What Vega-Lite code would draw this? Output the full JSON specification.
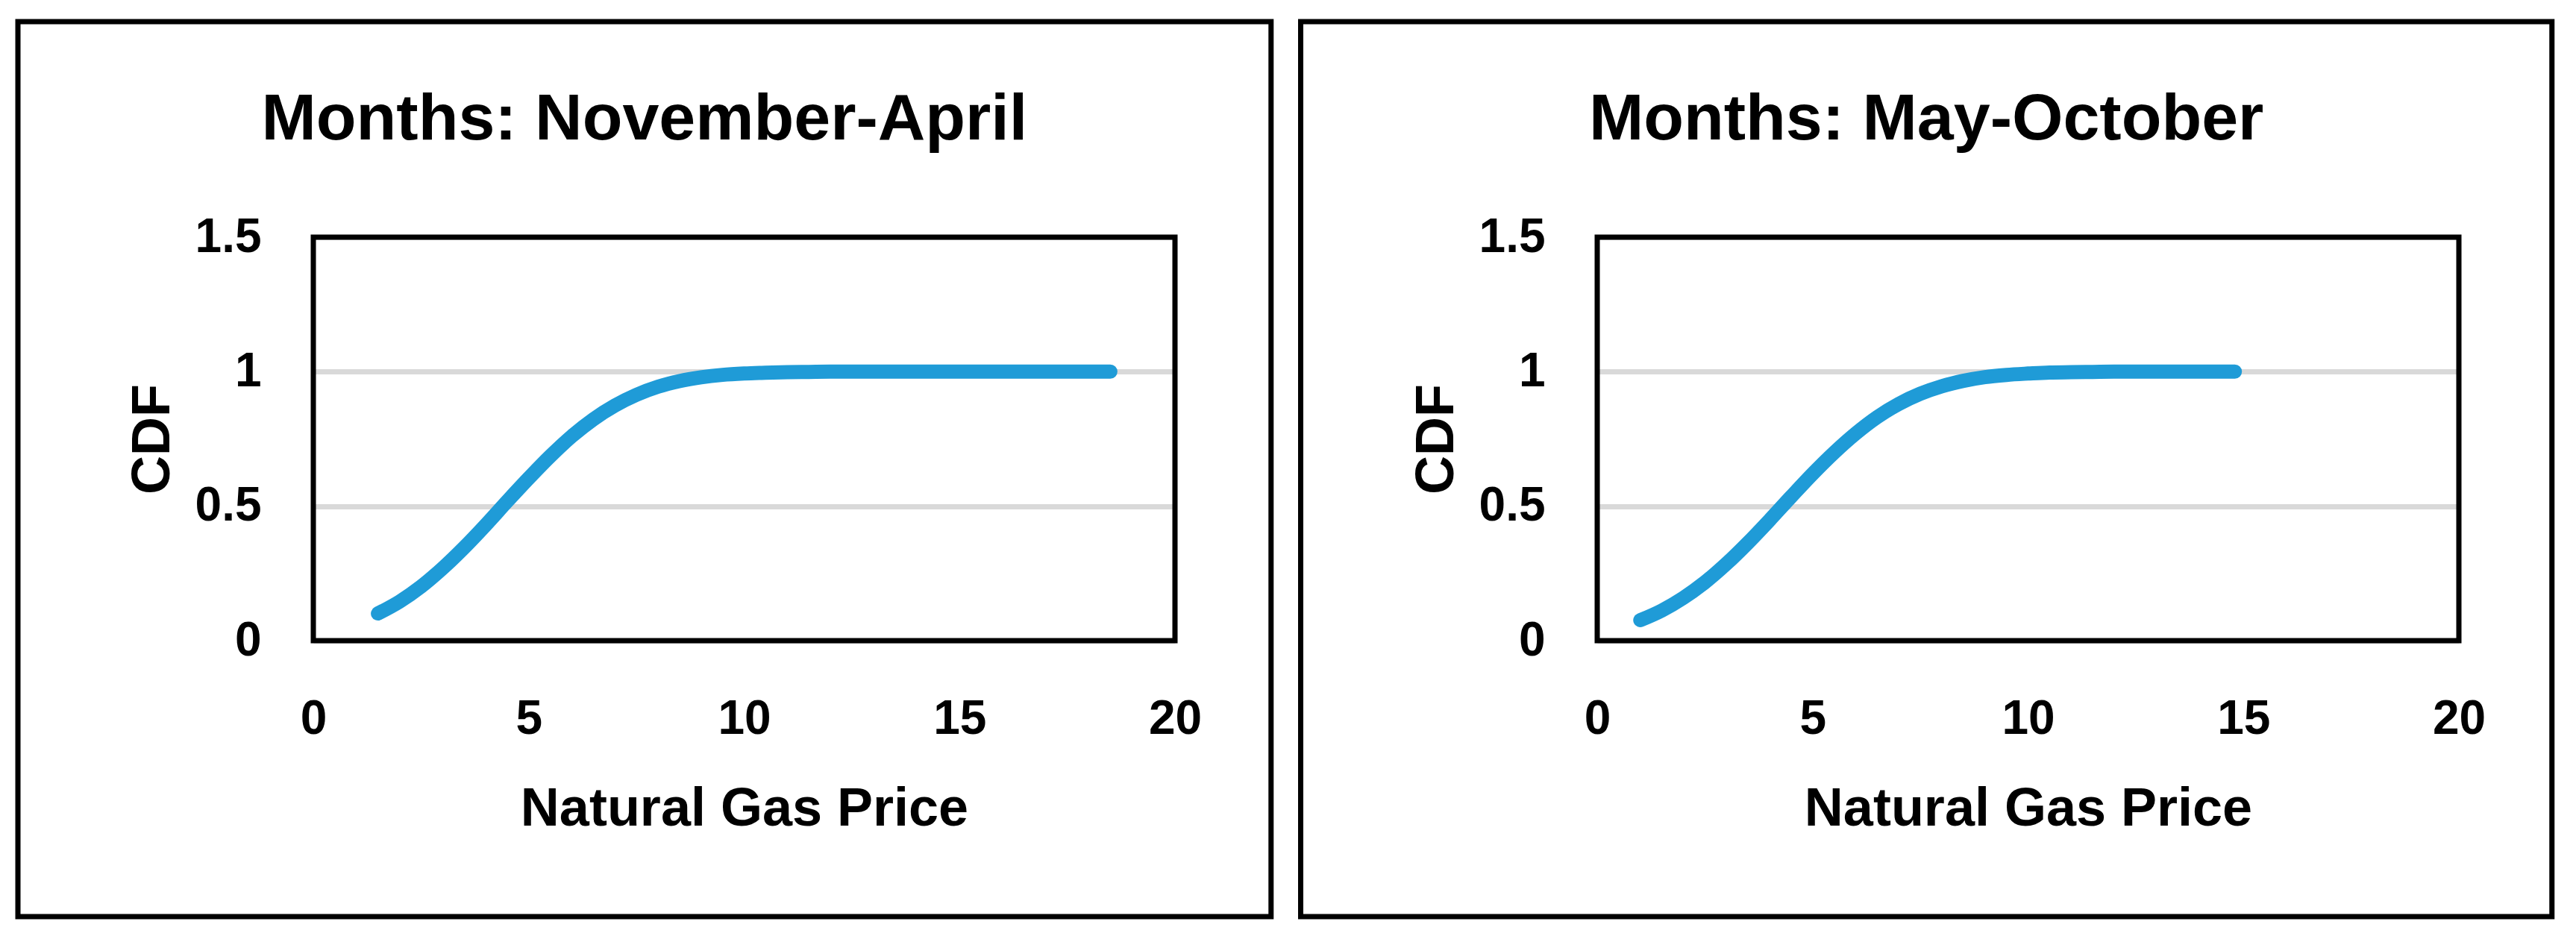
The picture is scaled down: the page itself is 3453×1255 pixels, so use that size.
{
  "$schema": "https://vega.github.io/schema/vega-lite/v6.json",
  "background": "white",
  "padding": {"left": 20, "top": 25, "right": 0, "bottom": 0},
  "spacing": 32,
  "datasets": {
    "novapr": [
      {"price": 1.5, "cdf": 0.101}, {"price": 2.0, "cdf": 0.145}, {"price": 2.5, "cdf": 0.201},
      {"price": 3.0, "cdf": 0.269}, {"price": 3.5, "cdf": 0.346}, {"price": 4.0, "cdf": 0.430},
      {"price": 4.5, "cdf": 0.518}, {"price": 5.0, "cdf": 0.604}, {"price": 5.5, "cdf": 0.686},
      {"price": 6.0, "cdf": 0.760}, {"price": 6.5, "cdf": 0.823}, {"price": 7.0, "cdf": 0.874},
      {"price": 7.5, "cdf": 0.914}, {"price": 8.0, "cdf": 0.944}, {"price": 8.5, "cdf": 0.965},
      {"price": 9.0, "cdf": 0.979}, {"price": 9.5, "cdf": 0.988}, {"price": 10.0, "cdf": 0.993},
      {"price": 10.5, "cdf": 0.996}, {"price": 11.0, "cdf": 0.998}, {"price": 11.5, "cdf": 0.999},
      {"price": 12.0, "cdf": 1.0}, {"price": 13.0, "cdf": 1.0}, {"price": 14.0, "cdf": 1.0},
      {"price": 15.0, "cdf": 1.0}, {"price": 16.0, "cdf": 1.0}, {"price": 17.0, "cdf": 1.0},
      {"price": 18.0, "cdf": 1.0}, {"price": 18.5, "cdf": 1.0}
    ],
    "mayoct": [
      {"price": 1.0, "cdf": 0.076}, {"price": 1.5, "cdf": 0.112}, {"price": 2.0, "cdf": 0.159},
      {"price": 2.5, "cdf": 0.217}, {"price": 3.0, "cdf": 0.286}, {"price": 3.5, "cdf": 0.364},
      {"price": 4.0, "cdf": 0.448}, {"price": 4.5, "cdf": 0.535}, {"price": 5.0, "cdf": 0.620},
      {"price": 5.5, "cdf": 0.699}, {"price": 6.0, "cdf": 0.770}, {"price": 6.5, "cdf": 0.831},
      {"price": 7.0, "cdf": 0.880}, {"price": 7.5, "cdf": 0.918}, {"price": 8.0, "cdf": 0.946},
      {"price": 8.5, "cdf": 0.966}, {"price": 9.0, "cdf": 0.980}, {"price": 9.5, "cdf": 0.988},
      {"price": 10.0, "cdf": 0.993}, {"price": 10.5, "cdf": 0.997}, {"price": 11.0, "cdf": 0.998},
      {"price": 11.5, "cdf": 0.999}, {"price": 12.0, "cdf": 1.0}, {"price": 13.0, "cdf": 1.0},
      {"price": 14.0, "cdf": 1.0}, {"price": 14.8, "cdf": 1.0}
    ]
  },
  "config": {
    "font": "Liberation Sans",
    "view": {"stroke": null},
    "title": {"font": "Liberation Sans", "fontSize": 88, "fontWeight": "bold", "color": "black", "anchor": "middle", "frame": "bounds", "baseline": "alphabetic", "offset": -179},
    "axis": {
      "labelFont": "Liberation Sans", "labelFontSize": 64, "labelFontWeight": "bold", "labelColor": "black",
      "titleFont": "Liberation Sans", "titleFontSize": 72, "titleFontWeight": "bold", "titleColor": "black",
      "ticks": false, "tickSize": 0, "domain": false, "labelFlush": false
    },
    "axisX": {"grid": false, "labelPadding": 73, "titlePadding": 53, "labelBaseline": "top"},
    "axisY": {"grid": true, "gridColor": "#d9d9d9", "gridWidth": 7, "labelPadding": 70, "titlePadding": 20}
  },
  "hconcat": [
    {
      "title": "Months: November-April",
      "width": 1155,
      "height": 541,
      "layer": [
        {
          "data": {"values": [{}]},
          "mark": {"type": "rect", "fill": null, "stroke": "black", "strokeWidth": 7},
          "encoding": {
            "x": {"datum": -6.857, "type": "quantitative", "scale": {"domain": [0, 20], "nice": false}, "axis": {"title": "Natural Gas Price", "values": [0, 5, 10, 15, 20]}},
            "x2": {"datum": 22.23},
            "y": {"datum": -1.026, "type": "quantitative", "scale": {"domain": [0, 1.5], "nice": false}, "axis": {"title": "CDF", "values": [0, 0.5, 1, 1.5], "format": "~g"}},
            "y2": {"datum": 2.301}
          }
        },
        {
          "data": {"values": [{}]},
          "mark": {"type": "rect", "fill": null, "stroke": "black", "strokeWidth": 7},
          "encoding": {
            "x": {"datum": 0, "type": "quantitative", "scale": {"domain": [0, 20], "nice": false}, "axis": {"title": "Natural Gas Price", "values": [0, 5, 10, 15, 20]}},
            "x2": {"datum": 20},
            "y": {"datum": 0, "type": "quantitative", "scale": {"domain": [0, 1.5], "nice": false}, "axis": {"title": "CDF", "values": [0, 0.5, 1, 1.5], "format": "~g"}},
            "y2": {"datum": 1.5}
          }
        },
        {
          "data": {"name": "novapr"},
          "mark": {"type": "line", "color": "#1F9BD7", "strokeWidth": 19, "strokeCap": "round", "strokeJoin": "round", "interpolate": "monotone"},
          "encoding": {
            "x": {"field": "price", "type": "quantitative", "scale": {"domain": [0, 20], "nice": false},
                  "axis": {"title": "Natural Gas Price", "values": [0, 5, 10, 15, 20]}},
            "y": {"field": "cdf", "type": "quantitative", "scale": {"domain": [0, 1.5], "nice": false},
                  "axis": {"title": "CDF", "values": [0, 0.5, 1, 1.5], "format": "~g"}}
          }
        }
      ]
    },
    {
      "title": "Months: May-October",
      "width": 1155,
      "height": 541,
      "layer": [
        {
          "data": {"values": [{}]},
          "mark": {"type": "rect", "fill": null, "stroke": "black", "strokeWidth": 7},
          "encoding": {
            "x": {"datum": -6.883, "type": "quantitative", "scale": {"domain": [0, 20], "nice": false}, "axis": {"title": "Natural Gas Price", "values": [0, 5, 10, 15, 20]}},
            "x2": {"datum": 22.16},
            "y": {"datum": -1.026, "type": "quantitative", "scale": {"domain": [0, 1.5], "nice": false}, "axis": {"title": "CDF", "values": [0, 0.5, 1, 1.5], "format": "~g"}},
            "y2": {"datum": 2.301}
          }
        },
        {
          "data": {"values": [{}]},
          "mark": {"type": "rect", "fill": null, "stroke": "black", "strokeWidth": 7},
          "encoding": {
            "x": {"datum": 0, "type": "quantitative", "scale": {"domain": [0, 20], "nice": false}, "axis": {"title": "Natural Gas Price", "values": [0, 5, 10, 15, 20]}},
            "x2": {"datum": 20},
            "y": {"datum": 0, "type": "quantitative", "scale": {"domain": [0, 1.5], "nice": false}, "axis": {"title": "CDF", "values": [0, 0.5, 1, 1.5], "format": "~g"}},
            "y2": {"datum": 1.5}
          }
        },
        {
          "data": {"name": "mayoct"},
          "mark": {"type": "line", "color": "#1F9BD7", "strokeWidth": 19, "strokeCap": "round", "strokeJoin": "round", "interpolate": "monotone"},
          "encoding": {
            "x": {"field": "price", "type": "quantitative", "scale": {"domain": [0, 20], "nice": false},
                  "axis": {"title": "Natural Gas Price", "values": [0, 5, 10, 15, 20]}},
            "y": {"field": "cdf", "type": "quantitative", "scale": {"domain": [0, 1.5], "nice": false},
                  "axis": {"title": "CDF", "values": [0, 0.5, 1, 1.5], "format": "~g"}}
          }
        }
      ]
    }
  ]
}
